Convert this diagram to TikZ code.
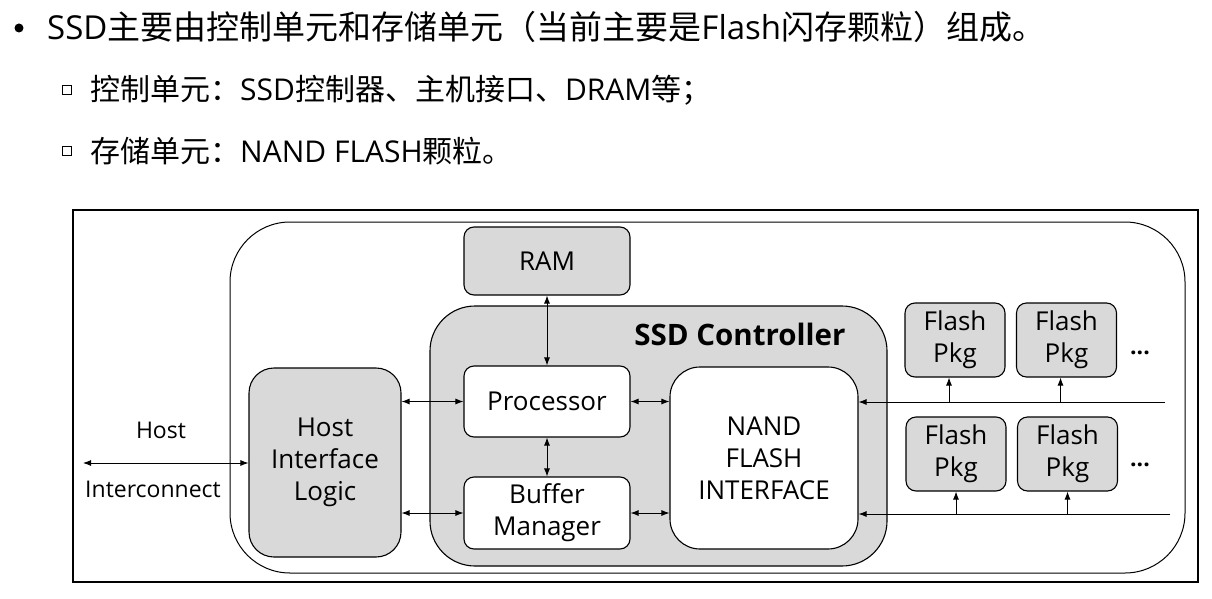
\documentclass[tikz,border=0pt]{standalone}
\usepackage{fontspec}
\setmainfont{Open Sans}
\newfontfamily\cjk{Noto Sans CJK SC}
\newcommand{\zh}[1]{{\cjk #1}}
\usetikzlibrary{arrows.meta}
\begin{document}
\begin{tikzpicture}[x=1pt,y=-1pt,
      every node/.style={inner sep=0pt},
      gbox/.style={draw,fill=gray!30,rounded corners=10pt,line width=1.1pt,align=center,font=\fontsize{26}{32}\selectfont},
      wbox/.style={draw,fill=white,rounded corners=10pt,line width=1.1pt,align=center,font=\fontsize{26}{32}\selectfont},
      pkg/.style={gbox,minimum width=100pt,minimum height=74pt},
      link/.style={{Latex[length=8pt,width=6pt]}-{Latex[length=8pt,width=6pt]},line width=0.9pt},
      up/.style={-{Latex[length=8pt,width=6pt]},line width=0.9pt},
      note/.style={font=\fontsize{23}{26}\selectfont}]
  \useasboundingbox (0,0) rectangle (1212,599);
  % bullet text
  \node[circle,fill,minimum size=9pt] (b0) at (19,28) {};
  \node[anchor=base west,font=\fontsize{33}{38}\selectfont] (l1) at (47,40) {SSD\zh{主要由控制单元和存储单元（当前主要是}Flash\zh{闪存颗粒）组成。}};
  \node[draw,minimum size=9pt,line width=0.8pt] (b1) at (67,90) {};
  \node[anchor=base west,font=\fontsize{30}{34}\selectfont] (l2) at (90,101) {\zh{控制单元：}SSD\zh{控制器、主机接口、}DRAM\zh{等；}};
  \node[draw,minimum size=9pt,line width=0.8pt] (b2) at (67,151) {};
  \node[anchor=base west,font=\fontsize{30}{34}\selectfont] (l3) at (90,162) {\zh{存储单元：}NAND FLASH\zh{颗粒。}};
  % frame and board
  \draw[line width=1.2pt] (73,210) rectangle (1198,582);
  \draw[line width=1pt,rounded corners=60pt] (230,222) rectangle (1185,573);
  \node[gbox,minimum width=166pt,minimum height=68pt] (ram) at (547,261) {RAM};
  \node[gbox,rounded corners=45pt,minimum width=457pt,minimum height=260pt] (ctrl) at (658.5,436) {};
  \node[font=\bfseries\fontsize{29.5}{34}\selectfont] (ctitle) at (740,334) {SSD Controller};
  \node[wbox,minimum width=166pt,minimum height=71pt] (proc) at (547,401.5) {Processor};
  \node[wbox,minimum width=166pt,minimum height=72pt] (buf) at (547,513) {Buffer\\Manager};
  \node[wbox,rounded corners=30pt,minimum width=188pt,minimum height=182pt] (nand) at (764,458) {NAND\\FLASH\\INTERFACE};
  \node[gbox,rounded corners=25pt,minimum width=152pt,minimum height=189pt] (hil) at (325,462.5) {Host\\Interface\\Logic};
  % flash packages
  \node[pkg] (fp1) at (955,340) {Flash\\Pkg};
  \node[pkg] (fp2) at (1066.5,340) {Flash\\Pkg};
  \node[pkg] (fp3) at (956,454) {Flash\\Pkg};
  \node[pkg] (fp4) at (1067.5,454) {Flash\\Pkg};
  \node[note] (d1) at (1140,353) {\textbf{...}};
  \node[note] (d2) at (1140,465) {\textbf{...}};
  % host side
  \coordinate (h) at (83,463);
  \node[note] (hlab) at (161,430) {Host};
  \node[note] (ilab) at (153,489) {Interconnect};
  \draw[link] (h) -- (hil.west |- h);
  \draw[link] (hil.east |- proc) -- (proc.west);
  \draw[link] (hil.east |- buf) -- (buf.west);
  \draw[link] (proc.east) -- (proc.east -| nand.west);
  \draw[link] (buf.east) -- (buf.east -| nand.west);
  \draw[link] (ram.south) -- (proc.north);
  \draw[link] (proc.south) -- (buf.north);
  % buses
  \coordinate (bus1) at (1165,402);
  \coordinate (bus2) at (1170,514);
  \draw[up] (bus1) -- (bus1 -| nand.east);
  \draw[up] (bus2) -- (bus2 -| nand.east);
  \draw[up] ([xshift=-6pt]fp1.south |- bus1) -- ([xshift=-6pt]fp1.south);
  \draw[up] ([xshift=-6pt]fp2.south |- bus1) -- ([xshift=-6pt]fp2.south);
  \draw[up] (fp3.south |- bus2) -- (fp3.south);
  \draw[up] (fp4.south |- bus2) -- (fp4.south);
\end{tikzpicture}
\end{document}
